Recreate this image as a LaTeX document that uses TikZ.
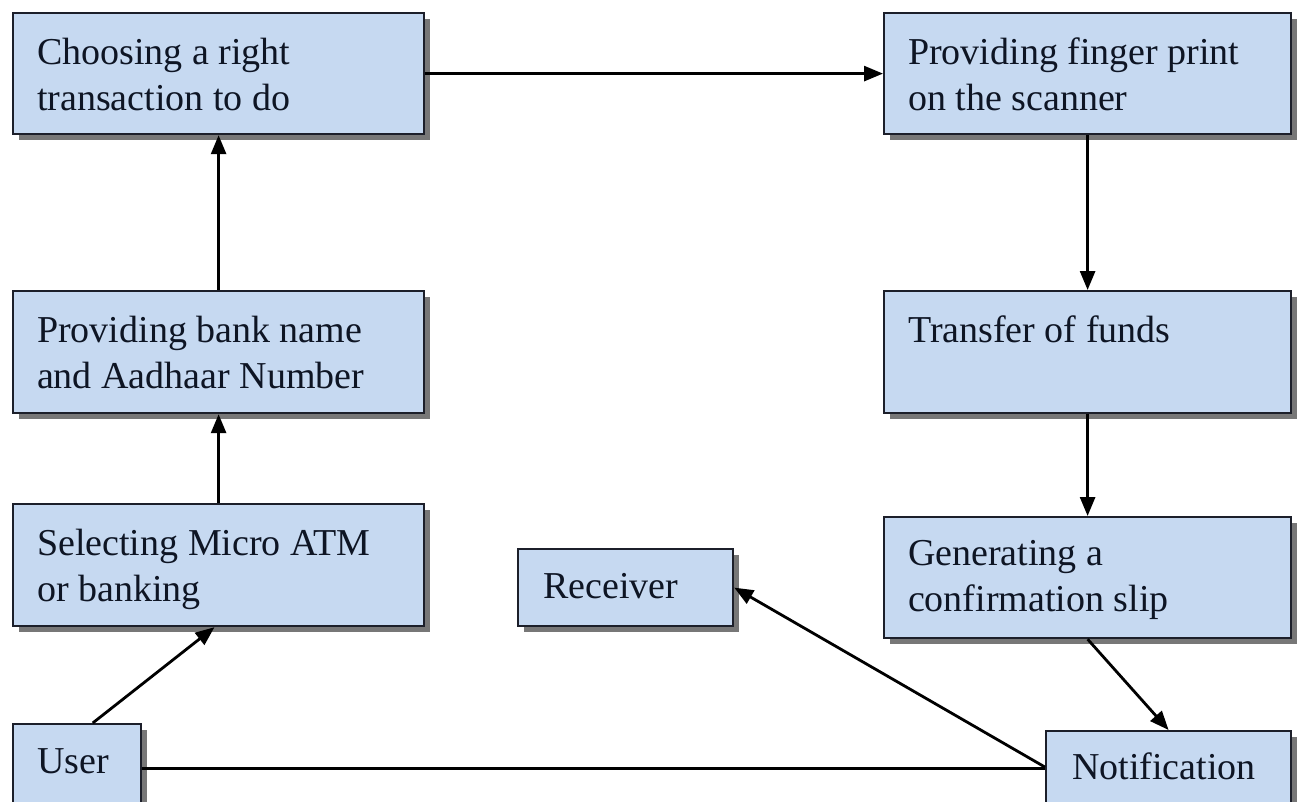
\documentclass[tikz,border=0pt]{standalone}
\usepackage{fontspec}
\setmainfont{Liberation Serif}
\usetikzlibrary{arrows.meta,shadows,calc}

\definecolor{boxfill}{HTML}{C6D9F1}
\definecolor{boxline}{HTML}{1C1F2A}
\definecolor{boxshadow}{HTML}{777777}
\definecolor{inktext}{HTML}{0E1524}

% text block inside a box: height, width, first-line gap, lines
\newcommand\boxcontent[4]{\parbox[c][#1][t]{#2}{\raggedright\vspace*{#3}\strut #4}}

\begin{document}
\begin{tikzpicture}[x=1pt,y=-1pt,
  stepbox/.style={draw=boxline, line width=2.2pt, fill=boxfill, rectangle,
    anchor=north west, inner ysep=0pt, inner xsep=24pt,
    text=inktext, font=\fontsize{38}{46}\selectfont,
    drop shadow={shadow xshift=6pt, shadow yshift=-6pt, fill=boxshadow, opacity=1}},
  flow/.style={line width=2.8pt, draw=black, -{Triangle[length=19pt,width=15pt]}},
  plain/.style={line width=2.8pt, draw=black}]

\useasboundingbox (0,0) rectangle (1297,802);

% left column
\node[stepbox] (choose) at (12,12)
  {\boxcontent{121pt}{363pt}{19pt}{Choosing a right\\transaction to do}};
\node[stepbox] (bank) at (12,290)
  {\boxcontent{122pt}{363pt}{19pt}{Providing bank name\\and Aadhaar Number}};
\node[stepbox] (select) at (12,503)
  {\boxcontent{122pt}{363pt}{19pt}{Selecting Micro ATM\\or banking}};
\node[stepbox] (user) at (12,723)
  {\boxcontent{88pt}{80pt}{17pt}{User}};

% right column
\node[stepbox] (finger) at (883,12)
  {\boxcontent{121pt}{359pt}{19pt}{Providing finger print\\on the scanner}};
\node[stepbox] (funds) at (883,290)
  {\boxcontent{122pt}{359pt}{19pt}{Transfer of funds}};
\node[stepbox] (slip) at (883,516)
  {\boxcontent{121pt}{359pt}{16pt}{Generating a\\confirmation slip}};
\node[stepbox, inner xsep=26pt] (notif) at (1045,730)
  {\boxcontent{72pt}{193pt}{16pt}{Notification}};

% middle
\node[stepbox, inner xsep=25pt] (recv) at (517,548)
  {\boxcontent{77pt}{165pt}{17pt}{Receiver}};

% connectors
\draw[flow] (choose.east) -- (finger.west);
\draw[flow] (bank.north) -- (choose.south);
\draw[flow] (select.north) -- (bank.south);
\draw[flow] ($(user.north west)!0.62!(user.north east)$) --
            ($(select.south west)!0.49!(select.south east)$);
\draw[flow] (finger.south) -- (funds.north);
\draw[flow] (funds.south) -- (slip.north);
\draw[flow] (slip.south) -- (notif.north);
\draw[flow] (notif.west) -- (recv.east);
\draw[plain] (user.east) -- (user.east -| notif.west);
\end{tikzpicture}
\end{document}
